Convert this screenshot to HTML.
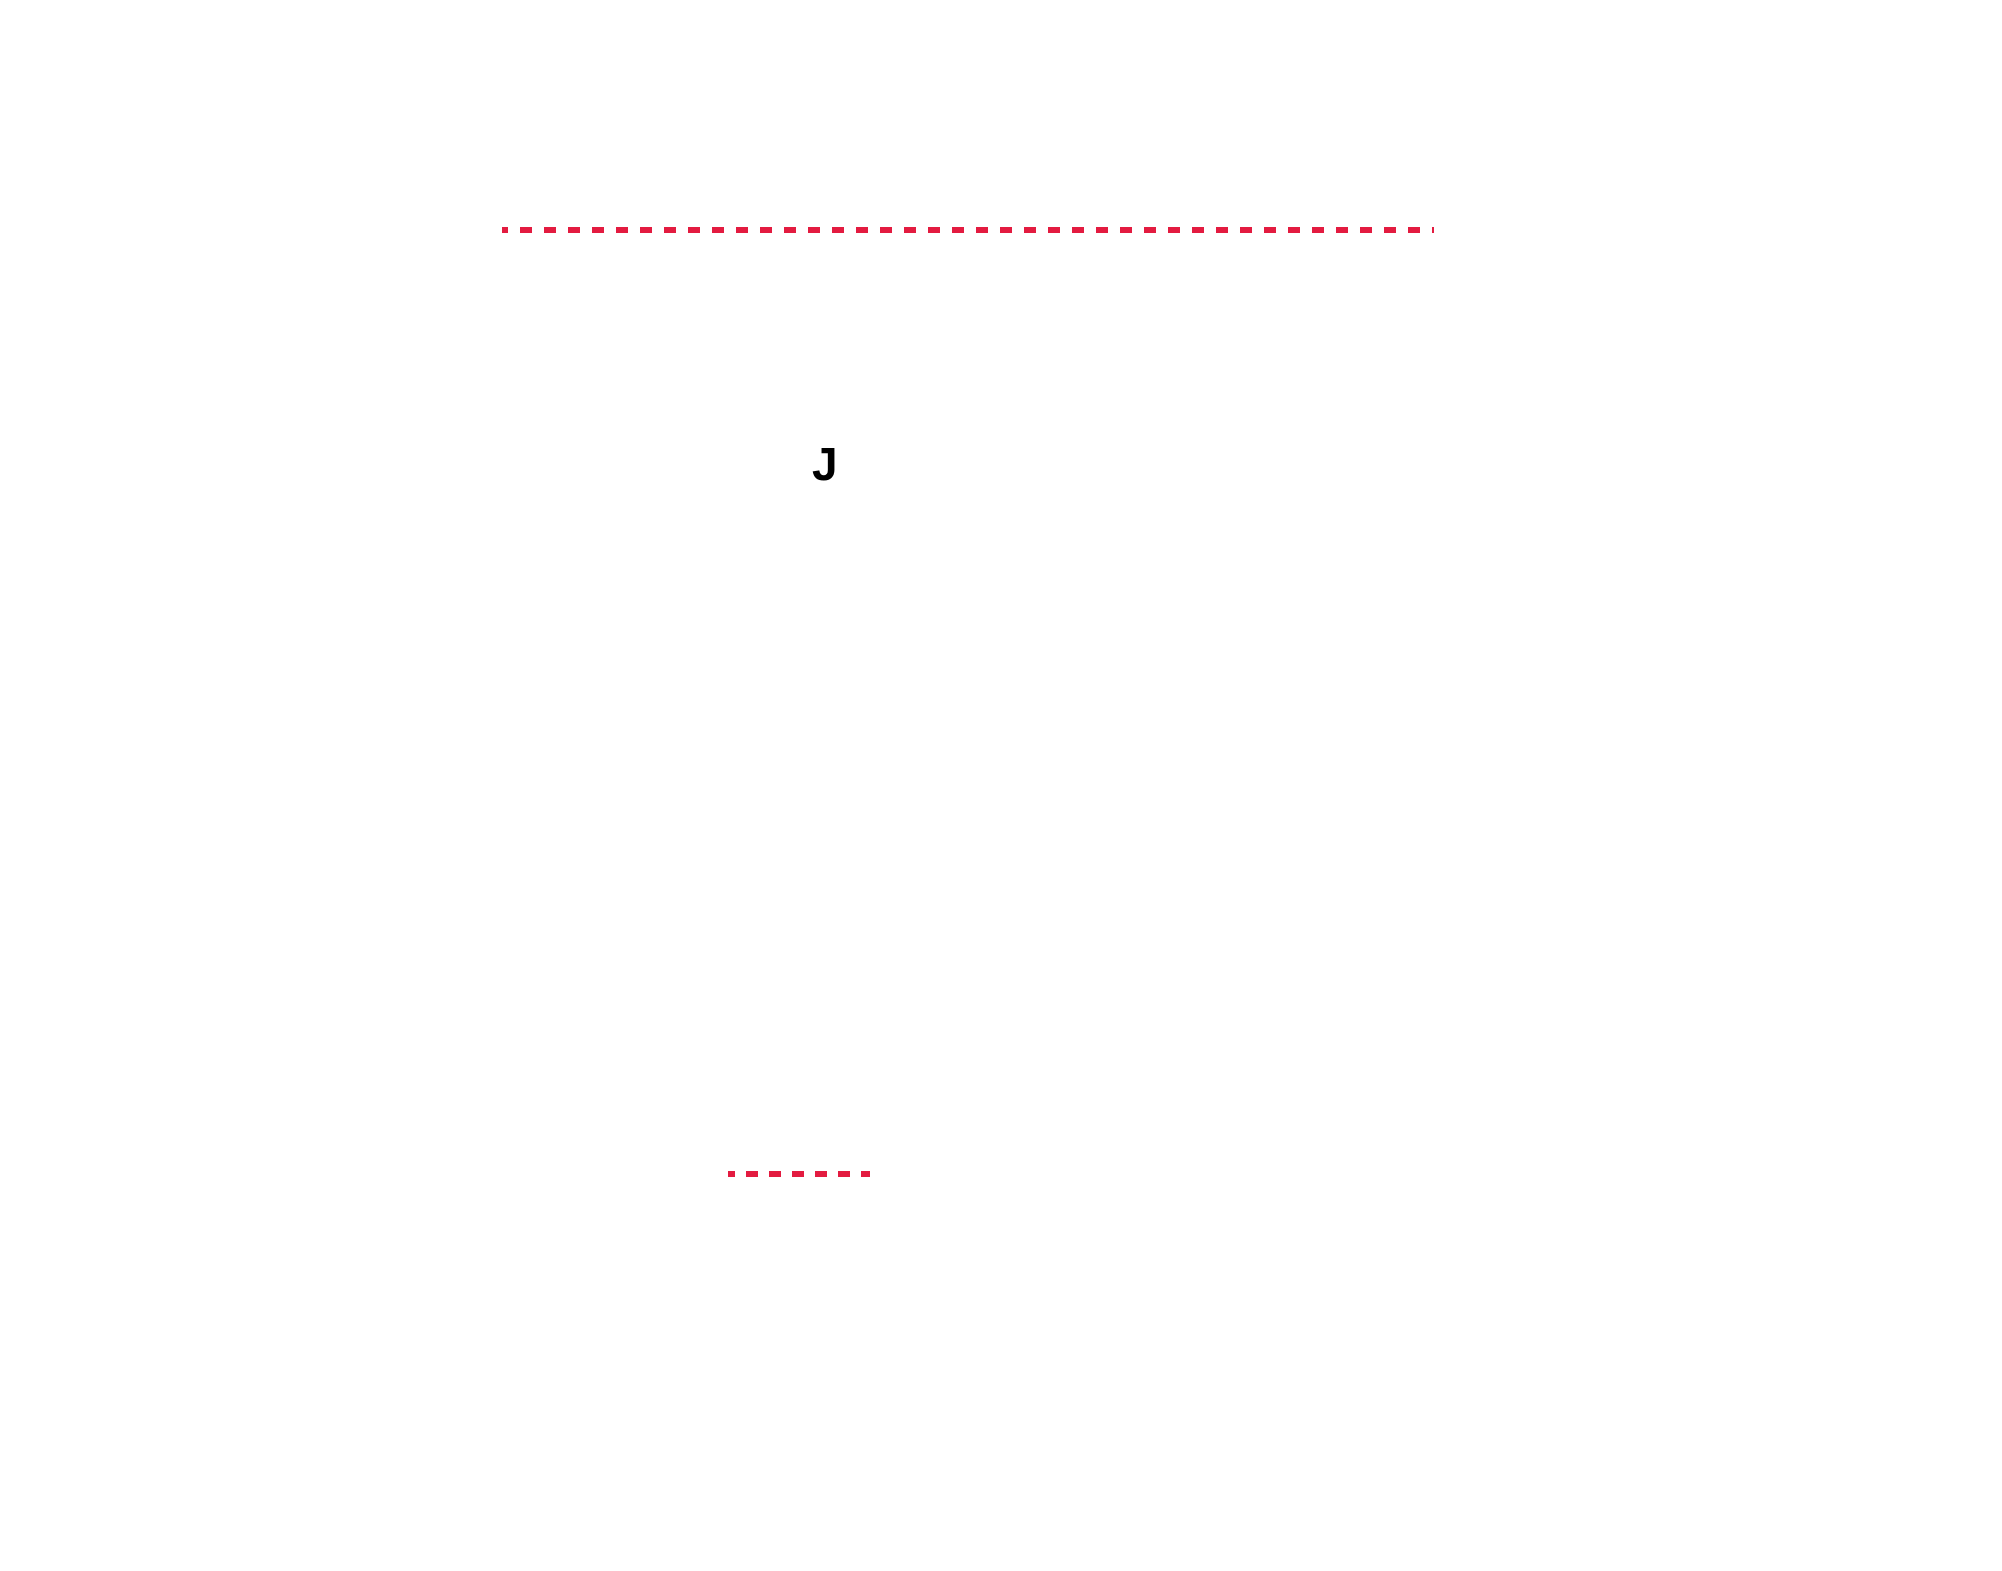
<!DOCTYPE html>
<html><head><meta charset="utf-8"><style>
html,body{margin:0;padding:0;background:#fff;}
svg{display:block;}
</style></head><body>
<svg width="2002" height="1571" xmlns="http://www.w3.org/2000/svg">
<rect width="2002" height="1571" fill="#fff"/>
<line x1="502" y1="230" x2="1434" y2="230" stroke="#e31b40" stroke-width="6" stroke-dasharray="12 12" stroke-dashoffset="6"/>
<line x1="728" y1="1174" x2="870" y2="1174" stroke="#e31b40" stroke-width="6" stroke-dasharray="12 11" stroke-dashoffset="5"/>
<text x="812" y="480" font-family="Liberation Sans, sans-serif" font-weight="bold" font-size="46" fill="#000">J</text>
</svg>
</body></html>
